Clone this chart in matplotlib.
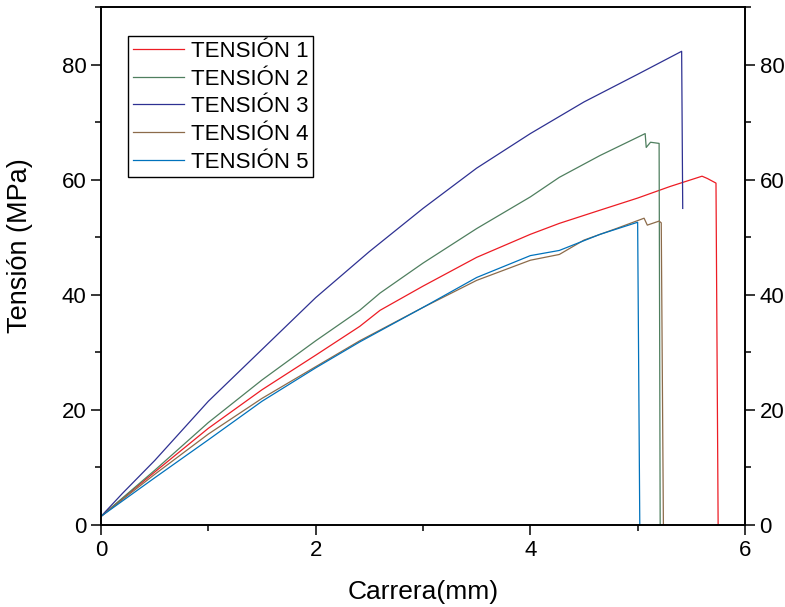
import matplotlib
matplotlib.use("Agg")
import matplotlib.pyplot as plt
from matplotlib.ticker import MultipleLocator

plt.rcParams['font.family'] = ['Liberation Sans', 'DejaVu Sans']

# carrera (mm) / tension (MPa)
x1 = [0, 0.5, 1.0, 1.5, 2.0, 2.41, 2.6, 3.0, 3.5, 4.0, 4.27, 4.65, 5.0, 5.3, 5.6, 5.65, 5.73, 5.75]
y1 = [1.5, 9.2, 16.8, 23.5, 29.5, 34.5, 37.3, 41.5, 46.5, 50.5, 52.4, 54.7, 56.8, 58.8, 60.6, 60.2, 59.4, 0]

x2 = [0, 0.5, 1.0, 1.5, 2.0, 2.41, 2.6, 3.0, 3.5, 4.0, 4.27, 4.65, 5.07, 5.08, 5.12, 5.20, 5.21]
y2 = [1.5, 9.5, 17.8, 25.2, 32.0, 37.3, 40.3, 45.5, 51.5, 57.0, 60.4, 64.2, 68.0, 65.6, 66.5, 66.3, 0]

x3 = [0, 0.2, 0.5, 1.0, 1.5, 2.0, 2.5, 3.0, 3.5, 4.0, 4.5, 5.0, 5.41, 5.42]
y3 = [1.5, 5.5, 11.2, 21.5, 30.5, 39.5, 47.5, 55.0, 62.0, 68.0, 73.5, 78.3, 82.3, 55.0]

x4 = [0, 0.5, 1.0, 1.5, 2.0, 2.41, 3.0, 3.5, 4.0, 4.27, 4.5, 4.8, 5.06, 5.09, 5.2, 5.22, 5.24]
y4 = [1.5, 8.8, 15.8, 22.0, 27.5, 32.0, 37.8, 42.5, 46.0, 47.0, 49.5, 51.5, 53.3, 52.1, 52.8, 52.5, 0]

x5 = [0, 0.5, 1.0, 1.5, 2.0, 2.41, 3.0, 3.5, 4.0, 4.27, 4.65, 5.0, 5.02]
y5 = [1.5, 8.2, 14.8, 21.5, 27.3, 31.8, 37.8, 43.0, 46.8, 47.7, 50.5, 52.6, 0]

labels = ['TENSIÓN 1', 'TENSIÓN 2', 'TENSIÓN 3', 'TENSIÓN 4', 'TENSIÓN 5']
colors = ['#ED1C24', '#4F7F5F', '#2E3192', '#8C6B4A', '#0072BC']

fig = plt.figure(figsize=(7.85, 6.07), dpi=100)
ax = fig.add_axes([0.1287, 0.1351, 0.8203, 0.8534])

for xs, ys, lab, c in zip([x1, x2, x3, x4, x5], [y1, y2, y3, y4, y5], labels, colors):
    ax.plot(xs, ys, color=c, lw=0.9, label=lab)

ax.set_xlim(0, 6)
ax.set_ylim(0, 90)
ax.xaxis.set_major_locator(MultipleLocator(2))
ax.xaxis.set_minor_locator(MultipleLocator(1))
ax.yaxis.set_major_locator(MultipleLocator(20))
ax.yaxis.set_minor_locator(MultipleLocator(10))
ax.tick_params(which='major', direction='out', length=7, width=1.1, labelsize=16)
ax.tick_params(which='minor', direction='out', length=4, width=1.1)
ax.tick_params(top=False, which='both')
for s in ax.spines.values():
    s.set_linewidth(1.2)

ax2 = ax.twinx()
ax2.set_ylim(0, 90)
ax2.yaxis.set_major_locator(MultipleLocator(20))
ax2.yaxis.set_minor_locator(MultipleLocator(10))
ax2.tick_params(which='major', direction='out', length=7, width=1.1, labelsize=16)
ax2.tick_params(which='minor', direction='out', length=4, width=1.1)
for s in ax2.spines.values():
    s.set_linewidth(1.2)

ax.set_xlabel('Carrera(mm)', fontsize=19)
ax.set_ylabel('Tensión (MPa)', fontsize=19.5)
ax.xaxis.set_label_coords(0.5, -0.106)
ax.yaxis.set_label_coords(-0.106, 0.539)

leg = ax.legend(loc='upper left', bbox_to_anchor=(0.042, 0.944), fontsize=16,
                frameon=True, fancybox=False, edgecolor='black', framealpha=1,
                handlelength=2.3, handletextpad=0.3, labelspacing=0.3,
                borderaxespad=0, borderpad=0.22)
leg.get_frame().set_linewidth(1.0)

fig.savefig('out.png', dpi=100)
